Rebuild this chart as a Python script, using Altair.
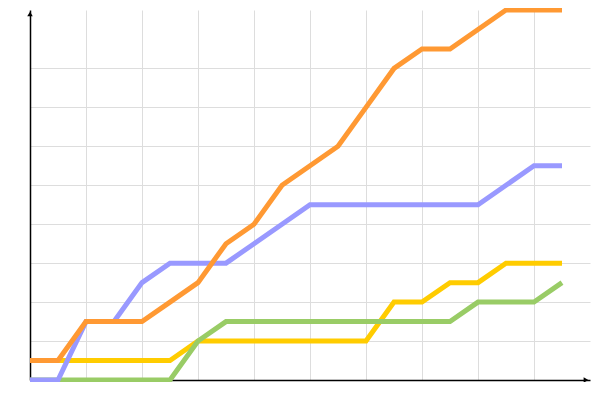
import altair as alt
import pandas as pd

x_vals = list(range(20))
orange = [1, 1, 3, 3, 3, 4, 5, 7, 8, 10, 11, 12, 14, 16, 17, 17, 18, 19, 19, 19]
blue = [0, 0, 3, 3, 5, 6, 6, 6, 7, 8, 9, 9, 9, 9, 9, 9, 9, 10, 11, 11]
yellow = [1, 1, 1, 1, 1, 1, 2, 2, 2, 2, 2, 2, 2, 4, 4, 5, 5, 6, 6, 6]
green = [0, 0, 0, 0, 0, 0, 2, 3, 3, 3, 3, 3, 3, 3, 3, 3, 4, 4, 4, 5]

series = [
    ("yellow", yellow, "#ffcc00"),
    ("green", green, "#99cc66"),
    ("blue", blue, "#9999ff"),
    ("orange", orange, "#ff9933"),
]

xs = alt.Scale(domain=[0, 20], nice=False, zero=True)
ys = alt.Scale(domain=[0, 19], nice=False, zero=True)

x_axis = alt.Axis(values=list(range(2, 20, 2)), grid=True, gridColor="#dddddd", gridWidth=1,
                  domain=True, domainColor="black", domainWidth=1.5, ticks=False, labels=False, title=None)
y_axis = alt.Axis(values=list(range(2, 17, 2)), grid=True, gridColor="#dddddd", gridWidth=1,
                  domain=True, domainColor="black", domainWidth=1.5, ticks=False, labels=False, title=None)

layers = []
for name, vals, col in series:
    df = pd.DataFrame({"x": x_vals, "y": vals})
    layers.append(
        alt.Chart(df).mark_line(color=col, strokeWidth=5, strokeJoin="miter").encode(
            x=alt.X("x:Q", scale=xs, axis=x_axis),
            y=alt.Y("y:Q", scale=ys, axis=y_axis),
        )
    )

arrow_df = pd.DataFrame({"a": [0]})
arrow_up = alt.Chart(arrow_df).mark_point(shape="triangle-up", filled=True, color="black", size=30, opacity=1).encode(
    x=alt.value(0), y=alt.value(4))
arrow_right = alt.Chart(arrow_df).mark_point(shape="triangle-right", filled=True, color="black", size=30, opacity=1).encode(
    x=alt.value(556), y=alt.value(370))

chart = alt.layer(*layers, arrow_up, arrow_right).properties(
    width=560, height=370,
    padding={"left": 22, "top": 2, "right": 2, "bottom": 2},
    autosize=alt.AutoSizeParams(type="none"),
).configure(background="white").configure_view(stroke=None)

chart.save("out.html", embed_options={"renderer": "svg", "actions": False})
